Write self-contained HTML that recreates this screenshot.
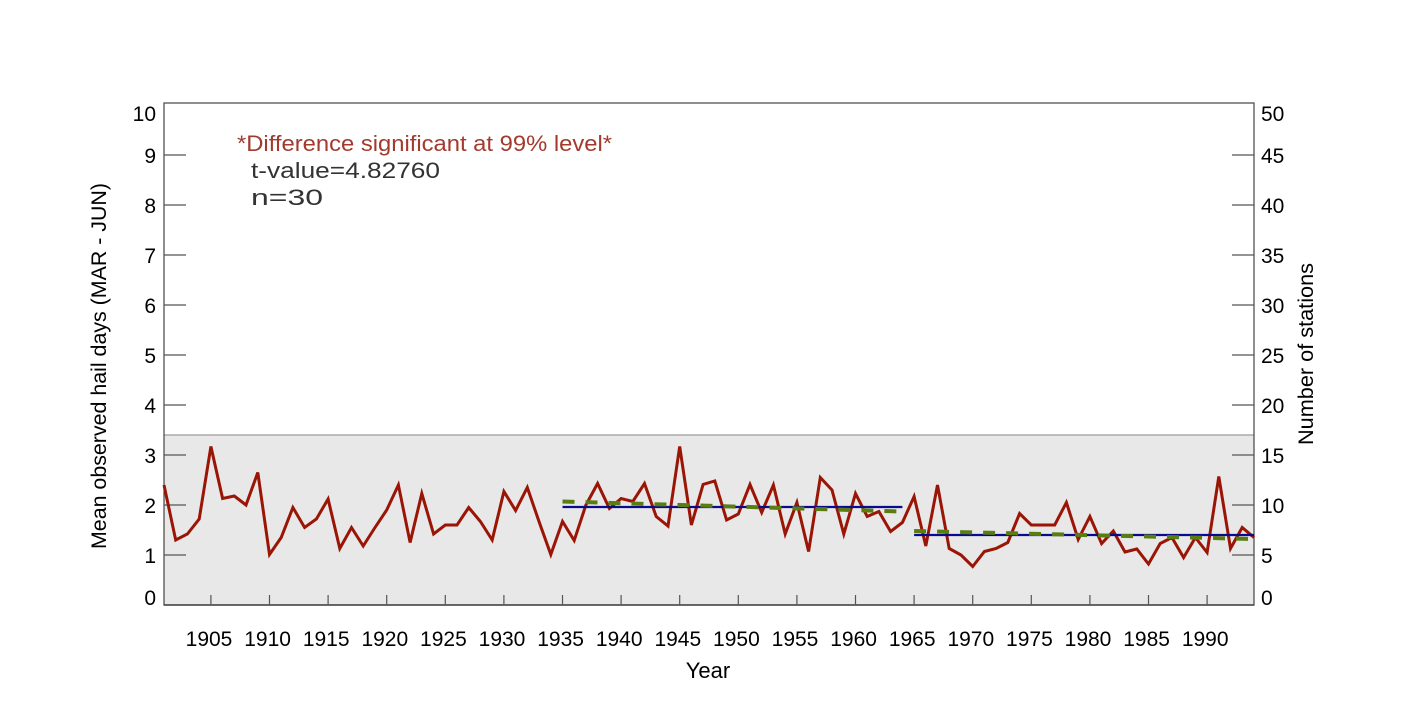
<!DOCTYPE html>
<html><head><meta charset="utf-8"><style>
html,body{margin:0;padding:0;background:#fff;}
svg{display:block;font-family:"Liberation Sans",Helvetica,Arial,sans-serif;}
</style></head><body>
<svg width="1417" height="709" viewBox="0 0 1417 709" xmlns="http://www.w3.org/2000/svg">
<rect x="164" y="435" width="1090" height="170" fill="#e8e8e8"/>
<line x1="164" y1="435" x2="1254" y2="435" stroke="#9a9a9a" stroke-width="1.2"/>
<rect x="164" y="103" width="1090" height="502" fill="none" stroke="#444" stroke-width="1.2"/>
<line x1="164" y1="605" x2="1254" y2="605" stroke="#444" stroke-width="1.6"/>
<g stroke="#555" stroke-width="1.2">
<line x1="164" y1="555" x2="186" y2="555"/><line x1="164" y1="505" x2="186" y2="505"/><line x1="164" y1="455" x2="186" y2="455"/><line x1="164" y1="405" x2="186" y2="405"/><line x1="164" y1="355" x2="186" y2="355"/><line x1="164" y1="305" x2="186" y2="305"/><line x1="164" y1="255" x2="186" y2="255"/><line x1="164" y1="205" x2="186" y2="205"/><line x1="164" y1="155" x2="186" y2="155"/>
<line x1="1232" y1="555" x2="1254" y2="555"/><line x1="1232" y1="505" x2="1254" y2="505"/><line x1="1232" y1="455" x2="1254" y2="455"/><line x1="1232" y1="405" x2="1254" y2="405"/><line x1="1232" y1="355" x2="1254" y2="355"/><line x1="1232" y1="305" x2="1254" y2="305"/><line x1="1232" y1="255" x2="1254" y2="255"/><line x1="1232" y1="205" x2="1254" y2="205"/><line x1="1232" y1="155" x2="1254" y2="155"/>
<line x1="210.9" y1="595" x2="210.9" y2="605"/><line x1="269.5" y1="595" x2="269.5" y2="605"/><line x1="328.1" y1="595" x2="328.1" y2="605"/><line x1="386.7" y1="595" x2="386.7" y2="605"/><line x1="445.3" y1="595" x2="445.3" y2="605"/><line x1="503.9" y1="595" x2="503.9" y2="605"/><line x1="562.5" y1="595" x2="562.5" y2="605"/><line x1="621.1" y1="595" x2="621.1" y2="605"/><line x1="679.7" y1="595" x2="679.7" y2="605"/><line x1="738.3" y1="595" x2="738.3" y2="605"/><line x1="796.9" y1="595" x2="796.9" y2="605"/><line x1="855.5" y1="595" x2="855.5" y2="605"/><line x1="914.1" y1="595" x2="914.1" y2="605"/><line x1="972.7" y1="595" x2="972.7" y2="605"/><line x1="1031.3" y1="595" x2="1031.3" y2="605"/><line x1="1089.9" y1="595" x2="1089.9" y2="605"/><line x1="1148.5" y1="595" x2="1148.5" y2="605"/><line x1="1207.1" y1="595" x2="1207.1" y2="605"/>
</g>
<g font-size="21" fill="#000" text-anchor="end">
<text x="156" y="605">0</text><text x="156" y="563">1</text><text x="156" y="513">2</text><text x="156" y="463">3</text><text x="156" y="413">4</text><text x="156" y="363">5</text><text x="156" y="313">6</text><text x="156" y="263">7</text><text x="156" y="213">8</text><text x="156" y="163">9</text><text x="156" y="121">10</text>
</g>
<g font-size="21" fill="#000" text-anchor="start">
<text x="1261" y="605">0</text><text x="1261" y="563">5</text><text x="1261" y="513">10</text><text x="1261" y="463">15</text><text x="1261" y="413">20</text><text x="1261" y="363">25</text><text x="1261" y="313">30</text><text x="1261" y="263">35</text><text x="1261" y="213">40</text><text x="1261" y="163">45</text><text x="1261" y="121">50</text>
</g>
<g font-size="21" fill="#000" text-anchor="middle">
<text x="209" y="646">1905</text><text x="267.6" y="646">1910</text><text x="326.2" y="646">1915</text><text x="384.8" y="646">1920</text><text x="443.4" y="646">1925</text><text x="502" y="646">1930</text><text x="560.6" y="646">1935</text><text x="619.2" y="646">1940</text><text x="677.8" y="646">1945</text><text x="736.4" y="646">1950</text><text x="795" y="646">1955</text><text x="853.6" y="646">1960</text><text x="912.2" y="646">1965</text><text x="970.8" y="646">1970</text><text x="1029.4" y="646">1975</text><text x="1088" y="646">1980</text><text x="1146.6" y="646">1985</text><text x="1205.2" y="646">1990</text>
<text x="708" y="678" font-size="22">Year</text>
<text transform="translate(106,366) rotate(-90)" font-size="21.5" textLength="366" lengthAdjust="spacingAndGlyphs">Mean observed hail days (MAR - JUN)</text>
<text transform="translate(1313,354) rotate(-90)" font-size="21.5" textLength="182" lengthAdjust="spacingAndGlyphs">Number of stations</text>
</g>
<text x="237" y="151" font-size="22" fill="#a33a2e" textLength="375" lengthAdjust="spacingAndGlyphs">*Difference significant at 99% level*</text>
<text x="251" y="178" font-size="22" fill="#333" textLength="189" lengthAdjust="spacingAndGlyphs">t-value=4.82760</text>
<text x="251" y="205" font-size="22" fill="#333" textLength="72" lengthAdjust="spacingAndGlyphs">n=30</text>
<polyline fill="none" stroke="#9a1505" stroke-width="3" stroke-linejoin="miter" points="
164,485 175.7,540 187.4,534 199.2,519 210.9,446.5 222.6,498.5 234.3,496 246.0,505 257.8,472.5 269.5,554.5 281.2,537.5 292.9,507.5 304.6,527.5 316.4,519 328.1,499 339.8,548.5 351.5,527.5 363.2,546 375.0,527.5 386.7,510 398.4,485 410.1,542.5 421.8,493.5 433.6,534 445.3,525 457.0,525 468.7,507.5 480.4,521.5 492.2,540 503.9,491.5 515.6,510.5 527.3,487.5 539.0,521.5 550.8,554.5 562.5,521.5 574.2,540.5 585.9,505 597.6,483.5 609.4,508.5 621.1,498.5 632.8,501.5 644.5,483.5 656.2,516.5 668.0,526 679.7,446.5 691.4,525 703.1,484.5 714.8,481 726.6,520 738.3,514 750.0,484.5 761.7,512.5 773.4,485 785.2,534 796.9,502.5 808.6,551.5 820.3,477.5 832.0,490 843.8,534 855.5,493.5 867.2,516.5 878.9,511.5 890.6,531.5 902.4,522.5 914.1,496.5 925.8,546 937.5,485 949.2,548.5 961.0,555 972.7,566.5 984.4,551.5 996.1,548.5 1007.8,542.5 1019.6,513.5 1031.3,525 1043.0,525 1054.7,525 1066.4,502.5 1078.2,539.5 1089.9,516.5 1101.6,543.5 1113.3,531 1125.0,552 1136.8,549 1148.5,564 1160.2,543.5 1171.9,537.5 1183.6,557.5 1195.4,537.5 1207.1,552.5 1218.8,476.5 1230.5,548.5 1242.2,527.5 1254,537.5"/>
<line x1="562.5" y1="507" x2="902.4" y2="507" stroke="#0a0a8c" stroke-width="2.2"/>
<line x1="914.1" y1="535" x2="1254" y2="535" stroke="#0a0a8c" stroke-width="2.2"/>
<line x1="562.5" y1="501.5" x2="902.4" y2="511.5" stroke="#5a7d12" stroke-width="4" stroke-dasharray="12,11"/>
<line x1="914.1" y1="531" x2="1254" y2="539" stroke="#5a7d12" stroke-width="4" stroke-dasharray="12,11"/>
</svg>
</body></html>
